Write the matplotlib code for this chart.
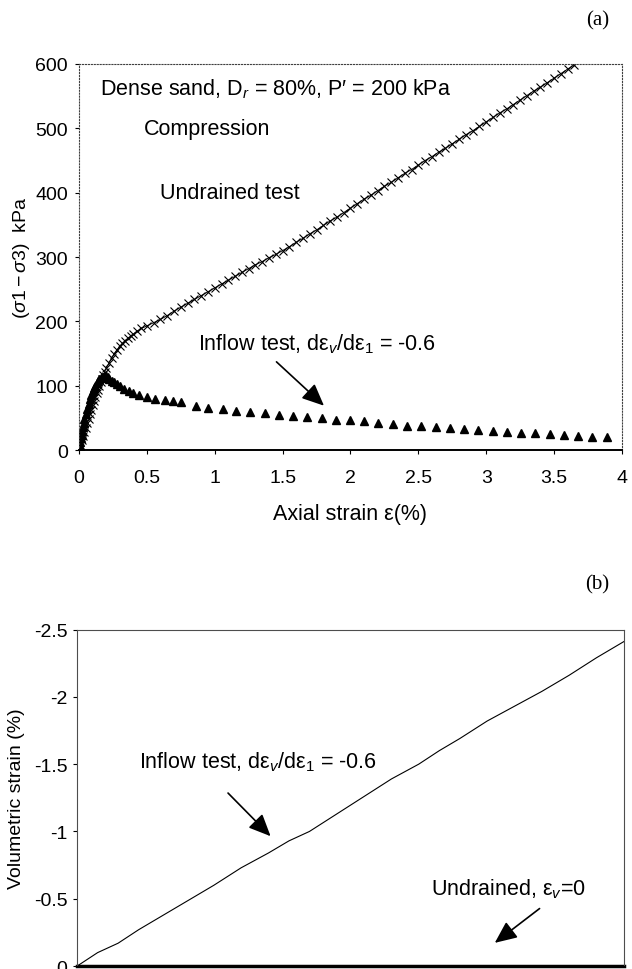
import matplotlib.pyplot as plt

plt.rcParams['font.family'] = ['Liberation Sans', 'DejaVu Sans']
plt.rcParams['mathtext.fontset'] = 'custom'
plt.rcParams['mathtext.rm'] = 'Liberation Sans'
plt.rcParams['mathtext.it'] = 'Liberation Sans:italic'

# (a) undrained test, deviator stress vs axial strain
undr_x = [0, 0.01, 0.02, 0.03, 0.04, 0.05, 0.06, 0.07, 0.08, 0.09, 0.1, 0.11, 0.12,
          0.13, 0.14, 0.15, 0.16, 0.17, 0.18, 0.19, 0.2, 0.22, 0.24, 0.26, 0.28, 0.3,
          0.32, 0.34, 0.36, 0.38, 0.4, 0.43, 0.46,
          0.5, 0.55, 0.6, 0.65, 0.7, 0.75, 0.8, 0.85, 0.9, 0.95, 1.0, 1.05, 1.1, 1.15,
          1.2, 1.25, 1.3, 1.35, 1.4, 1.45, 1.5, 1.55, 1.6, 1.65, 1.7, 1.75, 1.8, 1.85,
          1.9, 1.95, 2.0, 2.05, 2.1, 2.15, 2.2, 2.25, 2.3, 2.35, 2.4, 2.45, 2.5, 2.55,
          2.6, 2.65, 2.7, 2.75, 2.8, 2.85, 2.9, 2.95, 3.0, 3.05, 3.1, 3.15, 3.2, 3.25,
          3.3, 3.35, 3.4, 3.45, 3.5, 3.55, 3.6, 3.65]
undr_q = [0, 8, 15, 22, 28, 35, 42, 49, 56, 63, 70, 76, 82,
          88, 94, 100, 106, 111, 117, 122, 127, 135, 143, 150, 156, 161,
          166, 170, 174, 177, 180, 185, 189,
          193, 198, 203, 209, 216, 222, 228, 234, 240, 246, 252, 258, 264, 270,
          276, 282, 288, 293, 299, 304, 310, 316, 323, 329, 336, 342, 349, 356,
          362, 369, 376, 383, 390, 396, 403, 410, 416, 423, 430, 436, 443, 450,
          456, 463, 469, 476, 483, 490, 496, 503, 510, 517, 524, 530, 537, 544,
          551, 558, 564, 571, 578, 585, 592, 599]

# (a) inflow test
infl_x = [0, 0.005, 0.01, 0.015, 0.02, 0.025, 0.03, 0.035, 0.04, 0.05, 0.06, 0.07,
          0.08, 0.09, 0.1, 0.11, 0.12, 0.13, 0.14, 0.15, 0.16, 0.17, 0.18, 0.19, 0.2,
          0.21, 0.22, 0.24, 0.26, 0.28, 0.3, 0.33, 0.37, 0.4, 0.44, 0.5, 0.56, 0.63,
          0.69, 0.75, 0.86, 0.95, 1.06, 1.16, 1.26, 1.37, 1.47, 1.58, 1.68, 1.79, 1.89,
          2.0, 2.1, 2.2, 2.31, 2.42, 2.52, 2.63, 2.73, 2.84, 2.94, 3.05, 3.15, 3.26,
          3.36, 3.47, 3.57, 3.68, 3.78, 3.89]
infl_q = [0, 6, 12, 18, 24, 30, 36, 42, 48, 56, 64, 72,
          79, 85, 91, 96, 100, 104, 107, 110, 112, 113, 114, 115, 115,
          113, 111, 108, 105, 102, 99, 95, 92, 88, 85, 82, 80, 78,
          76, 74, 69, 66, 64, 61, 59, 57, 55, 53, 51, 50, 47,
          46, 45, 42, 41, 38, 37, 36, 34, 33, 31, 30, 28, 27,
          26, 25, 24, 22, 21, 20]

# (b) volumetric strain
vol_x = [0, 0.15, 0.3, 0.45, 0.6, 0.8, 1.0, 1.2, 1.4, 1.55, 1.7, 1.9, 2.1, 2.3, 2.5,
         2.65, 2.8, 3.0, 3.2, 3.4, 3.6, 3.8, 4.0]
vol_e = [0, -0.1, -0.17, -0.27, -0.36, -0.48, -0.6, -0.73, -0.84, -0.93, -1.0, -1.13,
         -1.26, -1.39, -1.5, -1.6, -1.69, -1.82, -1.93, -2.04, -2.16, -2.29, -2.41]
undr_ev_x = [0, 4]
undr_ev = [0, 0]

TICK_FS = 14
TXT_FS = 15.5
arrow = dict(arrowstyle='-|>,head_length=0.9,head_width=0.4',
             color='black', lw=1.2, mutation_scale=15)

fig = plt.figure(figsize=(6.32, 9.70), dpi=100)

# ---- (a) ----
ax1 = fig.add_axes([0.125, 0.535, 0.859, 0.398])
ax1.plot(undr_x, undr_q, color='black', lw=0.7, marker='x', ms=6, mew=0.8)
ax1.plot(infl_x, infl_q, ls='none', color='black', marker='^', ms=6)
ax1.set_xlim(0, 4)
ax1.set_ylim(0, 600)
ax1.set_xticks([0, 0.5, 1, 1.5, 2, 2.5, 3, 3.5, 4])
ax1.set_xticklabels(['0', '0.5', '1', '1.5', '2', '2.5', '3', '3.5', '4'])
ax1.set_yticks([0, 100, 200, 300, 400, 500, 600])
ax1.tick_params(labelsize=TICK_FS, length=3, width=0.8, pad=5)
ax1.tick_params(axis='x', pad=11)
for s in ['top', 'right', 'left']:
    ax1.spines[s].set_linestyle(':')
    ax1.spines[s].set_color('0.25')
ax1.spines['bottom'].set_linewidth(1.4)
ax1.set_xlabel('Axial strain ε(%)', fontsize=TXT_FS, labelpad=12)
ax1.set_ylabel(r'$(\sigma1 - \sigma3)$  kPa', fontsize=TICK_FS, labelpad=2)

ax1.text(0.155, 563, 'Dense sand, D$_r$ = 80%, P′ = 200 kPa', fontsize=TXT_FS, va='center')
ax1.text(0.48, 500, 'Compression', fontsize=TXT_FS, va='center')
ax1.text(0.6, 400, 'Undrained test', fontsize=TXT_FS, va='center')
ax1.text(0.88, 166, 'Inflow test, dε$_v$/dε$_1$ = -0.6', fontsize=TXT_FS, va='center')
ax1.annotate('', xy=(1.82, 66), xytext=(1.44, 140), arrowprops=arrow)
fig.text(0.945, 0.978, '(a)', fontsize=15, family='Liberation Serif', ha='center', va='center')

# ---- (b) ----
ax2 = fig.add_axes([0.122, 0.003, 0.865, 0.347])
ax2.plot(vol_x, vol_e, color='black', lw=0.8)
ax2.plot(undr_ev_x, undr_ev, color='black', lw=2.5, clip_on=False)
ax2.set_xlim(0, 4)
ax2.set_ylim(0, -2.5)
ax2.set_yticks([0, -0.5, -1, -1.5, -2, -2.5])
ax2.set_yticklabels(['0', '-0.5', '-1', '-1.5', '-2', '-2.5'])
ax2.set_xticks([])
ax2.tick_params(labelsize=TICK_FS, length=3, width=0.8, pad=4)
for s in ['top', 'right', 'left']:
    ax2.spines[s].set_linewidth(0.8)
    ax2.spines[s].set_color('0.3')
ax2.set_ylabel('Volumetric strain (%)', fontsize=TICK_FS, labelpad=6)

ax2.text(0.45, -1.52, 'Inflow test, dε$_v$/dε$_1$ = -0.6', fontsize=TXT_FS, va='center')
ax2.annotate('', xy=(1.43, -0.95), xytext=(1.09, -1.3), arrowprops=arrow)
ax2.text(2.59, -0.58, 'Undrained, ε$_v$=0', fontsize=TXT_FS, va='center')
ax2.annotate('', xy=(3.04, -0.16), xytext=(3.4, -0.44), arrowprops=arrow)
fig.text(0.945, 0.397, '(b)', fontsize=15, family='Liberation Serif', ha='center', va='center')

fig.savefig('out.png', dpi=100)
